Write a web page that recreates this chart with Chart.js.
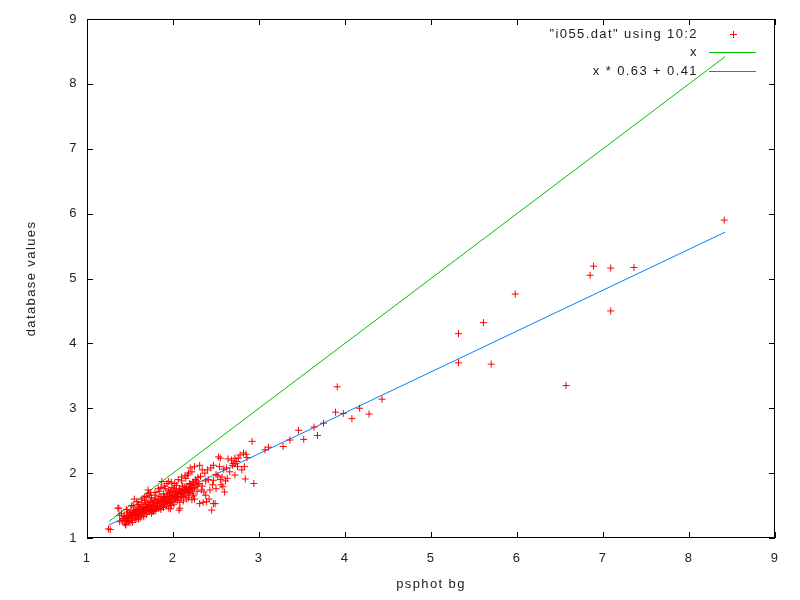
<!DOCTYPE html>
<html>
<head>
<meta charset="utf-8">
<script src="https://cdn.jsdelivr.net/npm/chart.js@4.4.1/dist/chart.umd.min.js"></script>
<style>
  html, body { margin: 0; padding: 0; background: #fff; }
  #wrap { width: 800px; height: 600px; }
</style>
</head>
<body>
<div id="wrap"><canvas id="chart"></canvas></div>
<script>
// psphot background (column 10) vs database values (column 2)
const bgX = [
  1.25, 1.27, 1.36, 1.37, 1.38, 1.38, 1.40, 1.42, 1.44, 1.45, 1.45, 1.46, 1.47, 1.48, 1.49, 1.50,
  1.51, 1.52, 1.53, 1.54, 1.55, 1.55, 1.56, 1.57, 1.58, 1.59, 1.60, 1.61, 1.62, 1.63, 1.64, 1.65,
  1.66, 1.67, 1.68, 1.69, 1.70, 1.71, 1.71, 1.72, 1.73, 1.74, 1.75, 1.76, 1.77, 1.77, 1.78, 1.79,
  1.80, 1.81, 1.82, 1.83, 1.84, 1.85, 1.86, 1.87, 1.87, 1.88, 1.89, 1.90, 1.91, 1.92, 1.93, 1.94,
  1.95, 1.95, 1.96, 1.97, 1.97, 1.98, 1.99, 2.00, 2.01, 2.02, 2.03, 2.04, 2.05, 2.06, 2.07, 2.08,
  2.08, 2.09, 2.10, 2.11, 2.12, 2.13, 2.14, 2.15, 2.16, 2.17, 2.18, 2.19, 2.20, 2.21, 2.22, 2.22,
  2.23, 2.24, 2.25, 2.27, 2.29, 2.31, 2.31, 2.33, 2.35, 2.36, 2.38, 2.39, 2.40, 2.43, 2.45, 2.47,
  2.47, 2.47, 2.49, 2.50, 2.53, 2.55, 2.56, 2.57, 2.58, 2.60, 2.62, 2.64, 2.66, 2.70,
  1.41, 1.43, 1.45, 1.46, 1.47, 1.49, 1.50, 1.52, 1.52, 1.53, 1.55, 1.56, 1.58, 1.58, 1.59, 1.60,
  1.62, 1.63, 1.64, 1.64, 1.66, 1.67, 1.68, 1.69, 1.70, 1.71, 1.72, 1.74, 1.74, 1.75, 1.76, 1.78,
  1.79, 1.80, 1.81, 1.83, 1.84, 1.85, 1.86, 1.87, 1.88, 1.89, 1.90, 1.92, 1.93, 1.94, 1.96, 1.97,
  1.98, 1.98, 2.00, 2.01, 2.03, 2.04, 2.05, 2.06, 2.07, 2.08, 2.09, 2.11, 2.12, 2.13, 2.14, 2.15,
  2.16, 2.18, 2.19, 2.20, 2.21, 2.23, 2.24, 2.26, 2.28, 2.30, 2.32, 2.34, 2.37, 2.41, 2.44, 2.46,
  2.52, 2.54, 2.59, 2.61, 2.68, 2.72, 2.76, 2.78, 2.80,
  2.72, 2.72, 2.75, 2.82, 2.83, 2.84, 2.85, 2.86, 2.92, 2.94, 3.07, 3.11, 3.28, 3.36, 3.46, 3.52,
  3.64, 3.68, 3.75, 3.89, 3.91, 3.98, 4.08, 4.17, 4.28, 4.43,
  5.32, 5.32, 5.61, 5.70, 5.98, 6.57, 6.85, 6.89, 7.09, 7.09, 7.36, 8.41
];
const dbY = [
  1.14, 1.13, 1.46, 1.46, 1.35, 1.25, 1.38, 1.30, 1.23, 1.28, 1.20, 1.33, 1.40, 1.25, 1.36, 1.31,
  1.42, 1.27, 1.37, 1.48, 1.33, 1.60, 1.29, 1.44, 1.39, 1.51, 1.35, 1.46, 1.31, 1.55, 1.42, 1.38,
  1.49, 1.58, 1.44, 1.36, 1.52, 1.69, 1.74, 1.47, 1.41, 1.56, 1.62, 1.50, 1.41, 1.41, 1.58, 1.45,
  1.66, 1.53, 1.48, 1.60, 1.72, 1.55, 1.44, 1.63, 1.87, 1.51, 1.68, 1.58, 1.76, 1.49, 1.84, 1.62,
  1.46, 1.87, 1.70, 1.55, 1.45, 1.64, 1.78, 1.60, 1.52, 1.73, 1.66, 1.81, 1.58, 1.69, 1.43, 1.76,
  1.46, 1.62, 1.88, 1.70, 1.57, 1.79, 1.66, 1.92, 1.73, 1.97, 1.62, 1.84, 1.71, 1.77, 2.02, 1.59,
  1.68, 1.86, 1.60, 1.80, 1.93, 2.12, 1.53, 1.74, 1.55, 1.71, 1.88, 1.56, 2.05, 1.74, 1.43, 1.53,
  1.89, 2.12, 1.53, 1.98, 2.25, 2.23, 1.82, 1.94, 1.79, 1.71, 2.08, 2.22, 2.02, 2.15,
  1.27, 1.34, 1.21, 1.44, 1.30, 1.27, 1.39, 1.33, 1.50, 1.24, 1.40, 1.36, 1.30, 1.56, 1.42, 1.29,
  1.40, 1.35, 1.48, 1.60, 1.33, 1.43, 1.52, 1.64, 1.40, 1.46, 1.55, 1.44, 1.70, 1.38, 1.54, 1.48,
  1.60, 1.42, 1.57, 1.46, 1.54, 1.64, 1.78, 1.50, 1.58, 1.47, 1.64, 1.56, 1.68, 1.53, 1.61, 1.72,
  1.50, 1.86, 1.67, 1.76, 1.59, 1.70, 1.64, 1.90, 1.74, 1.55, 1.68, 1.80, 1.64, 1.72, 1.96, 1.78,
  1.60, 1.75, 1.69, 2.08, 1.83, 1.76, 1.65, 1.90, 1.72, 1.84, 1.95, 1.80, 2.00, 1.90, 2.08, 1.82,
  1.96, 2.10, 2.06, 1.88, 2.20, 1.97, 2.23, 2.28, 2.05,
  2.23, 2.15, 2.10, 2.31, 2.10, 1.91, 2.29, 2.24, 2.49, 1.84, 2.36, 2.40, 2.41, 2.51, 2.66, 2.52,
  2.71, 2.58, 2.77, 2.94, 3.33, 2.92, 2.84, 3.00, 2.91, 3.14,
  4.15, 3.70, 4.32, 3.68, 4.76, 3.35, 5.05, 5.19, 5.16, 4.50, 5.17, 5.90
];

// extra points in the dense core of the cloud
const coreX = [
  1.44, 1.46, 1.48, 1.50, 1.51, 1.53, 1.54, 1.56, 1.57, 1.59, 1.61, 1.62, 1.63, 1.65, 1.66, 1.68,
  1.69, 1.70, 1.72, 1.73, 1.75, 1.76, 1.77, 1.78, 1.80, 1.81, 1.82, 1.84, 1.85, 1.86, 1.88, 1.89,
  1.90, 1.91, 1.93, 1.94, 1.95, 1.96, 1.98, 1.99, 2.00, 2.02, 2.03, 2.04, 2.06, 2.07, 2.09, 2.10,
  2.11, 2.13, 2.14, 2.16, 2.17, 2.19, 2.20, 2.22, 2.23, 2.25, 2.27, 2.29, 1.60, 1.67, 1.73, 1.79,
  1.83, 1.90, 1.95, 2.02, 2.10, 2.18, 2.25, 2.34, 2.38, 2.42, 2.50, 2.55, 2.63, 2.69, 2.74
];
const coreY = [
  1.32, 1.26, 1.34, 1.24, 1.35, 1.30, 1.38, 1.42, 1.33, 1.36, 1.38, 1.45, 1.40, 1.44, 1.39, 1.47,
  1.42, 1.48, 1.44, 1.50, 1.46, 1.42, 1.52, 1.44, 1.50, 1.46, 1.55, 1.50, 1.46, 1.56, 1.54, 1.60,
  1.52, 1.58, 1.56, 1.66, 1.58, 1.54, 1.60, 1.66, 1.56, 1.62, 1.70, 1.64, 1.62, 1.68, 1.72, 1.64,
  1.75, 1.68, 1.74, 1.78, 1.70, 1.76, 1.82, 1.74, 1.86, 1.78, 1.88, 1.82, 1.52, 1.62, 1.66, 1.70,
  1.76, 1.80, 1.74, 1.84, 1.94, 2.00, 2.10, 2.05, 1.66, 1.60, 1.76, 1.90, 1.92, 2.12, 2.18
];

// reference line y = x and fitted line y = 0.63 x + 0.41, over the data range
const lineX = [1.256, 8.42];
const identityY = lineX.map(v => v);
const fitY = lineX.map(v => v * 0.63 + 0.41);

const tickValues = [1, 2, 3, 4, 5, 6, 7, 8, 9];
const seriesLabels = ['"i055.dat" using 10:2', 'x', 'x * 0.63 + 0.41'];

const RED = '#ff0000';
const GREEN = '#00c000';
const BLUE = '#0080ff';
const FONT = '"Liberation Sans", Arial, sans-serif';
const TEXT = '#222';

const allX = bgX.concat(coreX);
const allY = dbY.concat(coreY);

// gnuplot-like frame: box border with inward ticks on all four sides
const framePlugin = {
  id: 'frame',
  beforeDraw(chart) {
    // gnuplot's text is spaced wider than the canvas default
    chart.ctx.letterSpacing = '1.4px';
  },
  afterDraw(chart) {
    const { ctx, chartArea: a, scales } = chart;
    const len = 6;
    ctx.save();
    ctx.strokeStyle = '#000';
    ctx.lineWidth = 1;
    ctx.strokeRect(Math.round(a.left) + 0.5, Math.round(a.top) + 0.5,
      Math.round(a.right - a.left) - 1, Math.round(a.bottom - a.top) - 1);
    ctx.beginPath();
    tickValues.forEach(v => {
      const px = Math.round(scales.x.getPixelForValue(v)) + 0.5;
      ctx.moveTo(px, a.bottom); ctx.lineTo(px, a.bottom - len);
      ctx.moveTo(px, a.top); ctx.lineTo(px, a.top + len);
      const py = Math.round(scales.y.getPixelForValue(v)) + 0.5;
      ctx.moveTo(a.left, py); ctx.lineTo(a.left + len, py);
      ctx.moveTo(a.right, py); ctx.lineTo(a.right - len, py);
    });
    ctx.stroke();

    // key in the top right corner, text right aligned, sample to its right
    ctx.font = '13px ' + FONT;
    ctx.fillStyle = TEXT;
    ctx.textAlign = 'right';
    ctx.textBaseline = 'middle';
    const textRight = a.right - 77;
    const sx0 = a.right - 66, sx1 = a.right - 19;
    const rows = [a.top + 15, a.top + 33, a.top + 52];
    seriesLabels.forEach((t, i) => ctx.fillText(t, textRight, rows[i]));
    ctx.strokeStyle = RED;
    ctx.beginPath();
    const cx = Math.round((sx0 + sx1) / 2) + 0.5, cy = Math.round(rows[0]) + 0.5;
    ctx.moveTo(cx - 3.5, cy); ctx.lineTo(cx + 3.5, cy);
    ctx.moveTo(cx, cy - 3.5); ctx.lineTo(cx, cy + 3.5);
    ctx.stroke();
    [[GREEN, rows[1]], [BLUE, rows[2]]].forEach(([c, y]) => {
      ctx.strokeStyle = c;
      ctx.beginPath();
      ctx.moveTo(sx0, Math.round(y) + 0.5); ctx.lineTo(sx1, Math.round(y) + 0.5);
      ctx.stroke();
    });
    ctx.restore();
  }
};

const ctx = document.getElementById('chart').getContext('2d');
new Chart(ctx, {
  type: 'scatter',
  data: {
    datasets: [
      {
        label: seriesLabels[0],
        data: allX.map((x, i) => ({ x, y: allY[i] })),
        pointStyle: 'cross',
        pointRadius: 3.5,
        pointBorderWidth: 1,
        borderColor: RED,
        backgroundColor: RED,
      },
      {
        label: seriesLabels[1],
        type: 'line',
        data: lineX.map((x, i) => ({ x, y: identityY[i] })),
        borderColor: GREEN,
        borderWidth: 1,
        pointRadius: 0,
        fill: false,
      },
      {
        label: seriesLabels[2],
        type: 'line',
        data: lineX.map((x, i) => ({ x, y: fitY[i] })),
        borderColor: BLUE,
        borderWidth: 1,
        pointRadius: 0,
        fill: false,
      },
    ],
  },
  options: {
    responsive: true,
    maintainAspectRatio: false,
    animation: false,
    layout: { padding: { top: 19, right: 25, left: 0, bottom: 0 } },
    plugins: {
      legend: { display: false },
      tooltip: { enabled: false },
    },
    scales: {
      x: {
        type: 'linear',
        min: 1,
        max: 9,
        afterBuildTicks: s => { s.ticks = tickValues.map(v => ({ value: v })); },
        afterFit: s => { s.height = 62; },
        grid: { display: false, drawTicks: false },
        border: { display: false },
        ticks: { color: TEXT, padding: 13, font: { family: FONT, size: 13 } },
        title: {
          display: true,
          text: 'psphot bg',
          color: TEXT,
          padding: { top: 0, bottom: 8 },
          font: { family: FONT, size: 13 },
        },
      },
      y: {
        type: 'linear',
        min: 1,
        max: 9,
        afterBuildTicks: s => { s.ticks = tickValues.map(v => ({ value: v })); },
        afterFit: s => { s.width = 87; },
        grid: { display: false, drawTicks: false },
        border: { display: false },
        ticks: { color: TEXT, padding: 9, font: { family: FONT, size: 13 } },
        title: {
          display: true,
          text: 'database values',
          color: TEXT,
          padding: { top: 24, bottom: 0 },
          font: { family: FONT, size: 13 },
        },
      },
    },
  },
  plugins: [framePlugin],
});
</script>
</body>
</html>
